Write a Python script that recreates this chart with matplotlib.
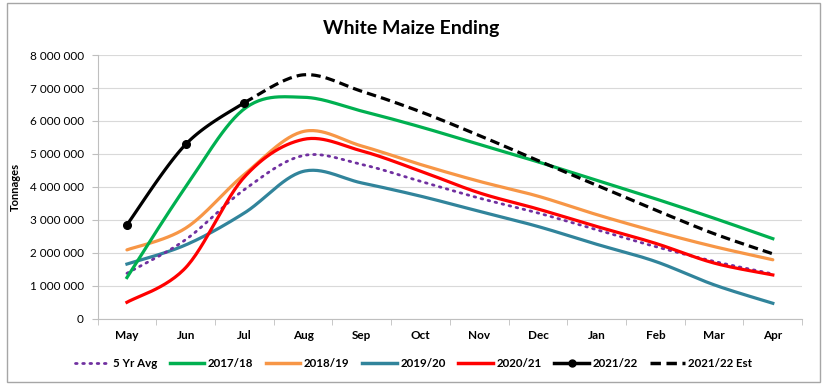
import numpy as np
import matplotlib
matplotlib.use("Agg")
import matplotlib.pyplot as plt
from matplotlib.lines import Line2D
from matplotlib.patches import Rectangle

plt.rcParams['font.family'] = ['Lato', 'DejaVu Sans']

months = ["May", "Jun", "Jul", "Aug", "Sep", "Oct", "Nov", "Dec", "Jan", "Feb", "Mar", "Apr"]
avg5 = [1.38, 2.40, 3.92, 4.95, 4.68, 4.17, 3.66, 3.21, 2.70, 2.19, 1.74, 1.36]
y1718 = [1.25, 4.00, 6.37, 6.72, 6.30, 5.82, 5.29, 4.76, 4.20, 3.64, 3.05, 2.43]
y1819 = [2.09, 2.75, 4.38, 5.68, 5.24, 4.68, 4.17, 3.72, 3.16, 2.65, 2.19, 1.79]
y1920 = [1.66, 2.24, 3.21, 4.47, 4.12, 3.72, 3.26, 2.80, 2.26, 1.74, 1.03, 0.47]
y2021 = [0.50, 1.55, 4.30, 5.44, 5.09, 4.48, 3.82, 3.33, 2.80, 2.29, 1.69, 1.33]
y2122 = [2.85, 5.29, 6.56]
y2122_est = [6.56, 7.40, 6.90, 6.28, 5.56, 4.80, 4.05, 3.30, 2.58, 1.97]
yticks = [0, 1, 2, 3, 4, 5, 6, 7, 8]
ytick_labels = ["0", "1 000 000", "2 000 000", "3 000 000", "4 000 000",
                "5 000 000", "6 000 000", "7 000 000", "8 000 000"]


def smooth(xs, ys, n=30):
    xs = np.asarray(xs, float)
    ys = np.asarray(ys, float) * 1e6
    px, py = [], []
    m = len(xs)
    for i in range(m - 1):
        x0, y0 = xs[i], ys[i]
        x3, y3 = xs[i + 1], ys[i + 1]
        xm, ym = (xs[i - 1], ys[i - 1]) if i > 0 else (x0, y0)
        xp, yp = (xs[i + 2], ys[i + 2]) if i + 2 < m else (x3, y3)
        x1 = x0 + (x3 - xm) / 6
        y1 = y0 + (y3 - ym) / 6
        x2 = x3 - (xp - x0) / 6
        y2 = y3 - (yp - y0) / 6
        t = np.linspace(0, 1, n)
        bx = (1 - t) ** 3 * x0 + 3 * (1 - t) ** 2 * t * x1 + 3 * (1 - t) * t ** 2 * x2 + t ** 3 * x3
        by = (1 - t) ** 3 * y0 + 3 * (1 - t) ** 2 * t * y1 + 3 * (1 - t) * t ** 2 * y2 + t ** 3 * y3
        px.extend(bx)
        py.extend(by)
    return np.array(px), np.array(py)


fig = plt.figure(figsize=(8.27, 3.85), dpi=100)
ax = fig.add_axes([0.118, 0.172, 0.852, 0.685])

x = np.arange(len(months))
c_avg = "#7030A0"
c_17 = "#00B050"
c_18 = "#F79646"
c_19 = "#31849B"
c_20 = "#FF0000"

ax.plot(*smooth(x, y1819), color=c_18, lw=2.3, solid_capstyle='round')
ax.plot(*smooth(x, y1920), color=c_19, lw=2.3)
ax.plot(*smooth(x, avg5), color=c_avg, lw=2.0, linestyle=(0, (0.6, 2.0)), dash_capstyle='round')
ax.plot(*smooth(x, y2021), color=c_20, lw=2.3)
ax.plot(*smooth(x, y1718), color=c_17, lw=2.3)
xe = np.arange(2, 2 + len(y2122_est))
ax.plot(*smooth(xe, y2122_est), color="black", lw=2.3, linestyle=(0, (3, 1.6)))
x2 = np.arange(len(y2122))
ax.plot(*smooth(x2, y2122), color="black", lw=2.3)
ax.plot(x2, np.array(y2122) * 1e6, 'o', color="black", ms=5.5)

ax.set_xlim(-0.5, len(months) - 0.5)
ax.set_ylim(0, 8e6)
ax.set_yticks(np.array(yticks) * 1e6)
ax.set_yticklabels(ytick_labels, fontsize=8.5)
ax.set_xticks(x)
ax.set_xticklabels(months, fontsize=8.5, fontweight='bold')
ax.set_xticks(np.arange(-0.5, len(months)), minor=True)
ax.tick_params(axis='x', which='major', length=0, pad=8)
ax.tick_params(axis='x', which='minor', length=4, color="#BFBFBF")
ax.tick_params(axis='y', length=4, color="#BFBFBF", pad=6)
ax.grid(axis='y', color="#D9D9D9", lw=0.8)
ax.set_axisbelow(True)
for s in ['top', 'right']:
    ax.spines[s].set_visible(False)
ax.spines['left'].set_color("#BFBFBF")
ax.spines['bottom'].set_color("#BFBFBF")
ax.set_ylabel("Tonnages", fontsize=8, fontweight='bold', labelpad=6)

fig.text(0.497, 0.927, "White Maize Ending", ha='center', va='center', fontsize=14, fontweight='bold')

handles = [
    Line2D([], [], color=c_avg, lw=2.0, linestyle=(0, (0.6, 2.0)), dash_capstyle='round'),
    Line2D([], [], color=c_17, lw=2.5),
    Line2D([], [], color=c_18, lw=2.5),
    Line2D([], [], color=c_19, lw=2.5),
    Line2D([], [], color=c_20, lw=2.5),
    Line2D([], [], color="black", lw=2.5, marker='o', ms=5),
    Line2D([], [], color="black", lw=2.5, linestyle=(0, (3, 1.6))),
]
labels = ["5 Yr Avg", "2017/18", "2018/19", "2019/20", "2020/21", "2021/22", "2021/22 Est"]
fig.legend(handles, labels, loc='center', bbox_to_anchor=(0.5, 0.057), ncol=7, frameon=False,
           handlelength=3.0, columnspacing=1.1, handletextpad=0.3,
           prop={'weight': 'bold', 'size': 8.3})

fig.patches.append(Rectangle((0.008, 0.008), 0.984, 0.984, transform=fig.transFigure,
                             fill=False, edgecolor="#A6A6A6", lw=1))

fig.savefig("out.png", dpi=100)
